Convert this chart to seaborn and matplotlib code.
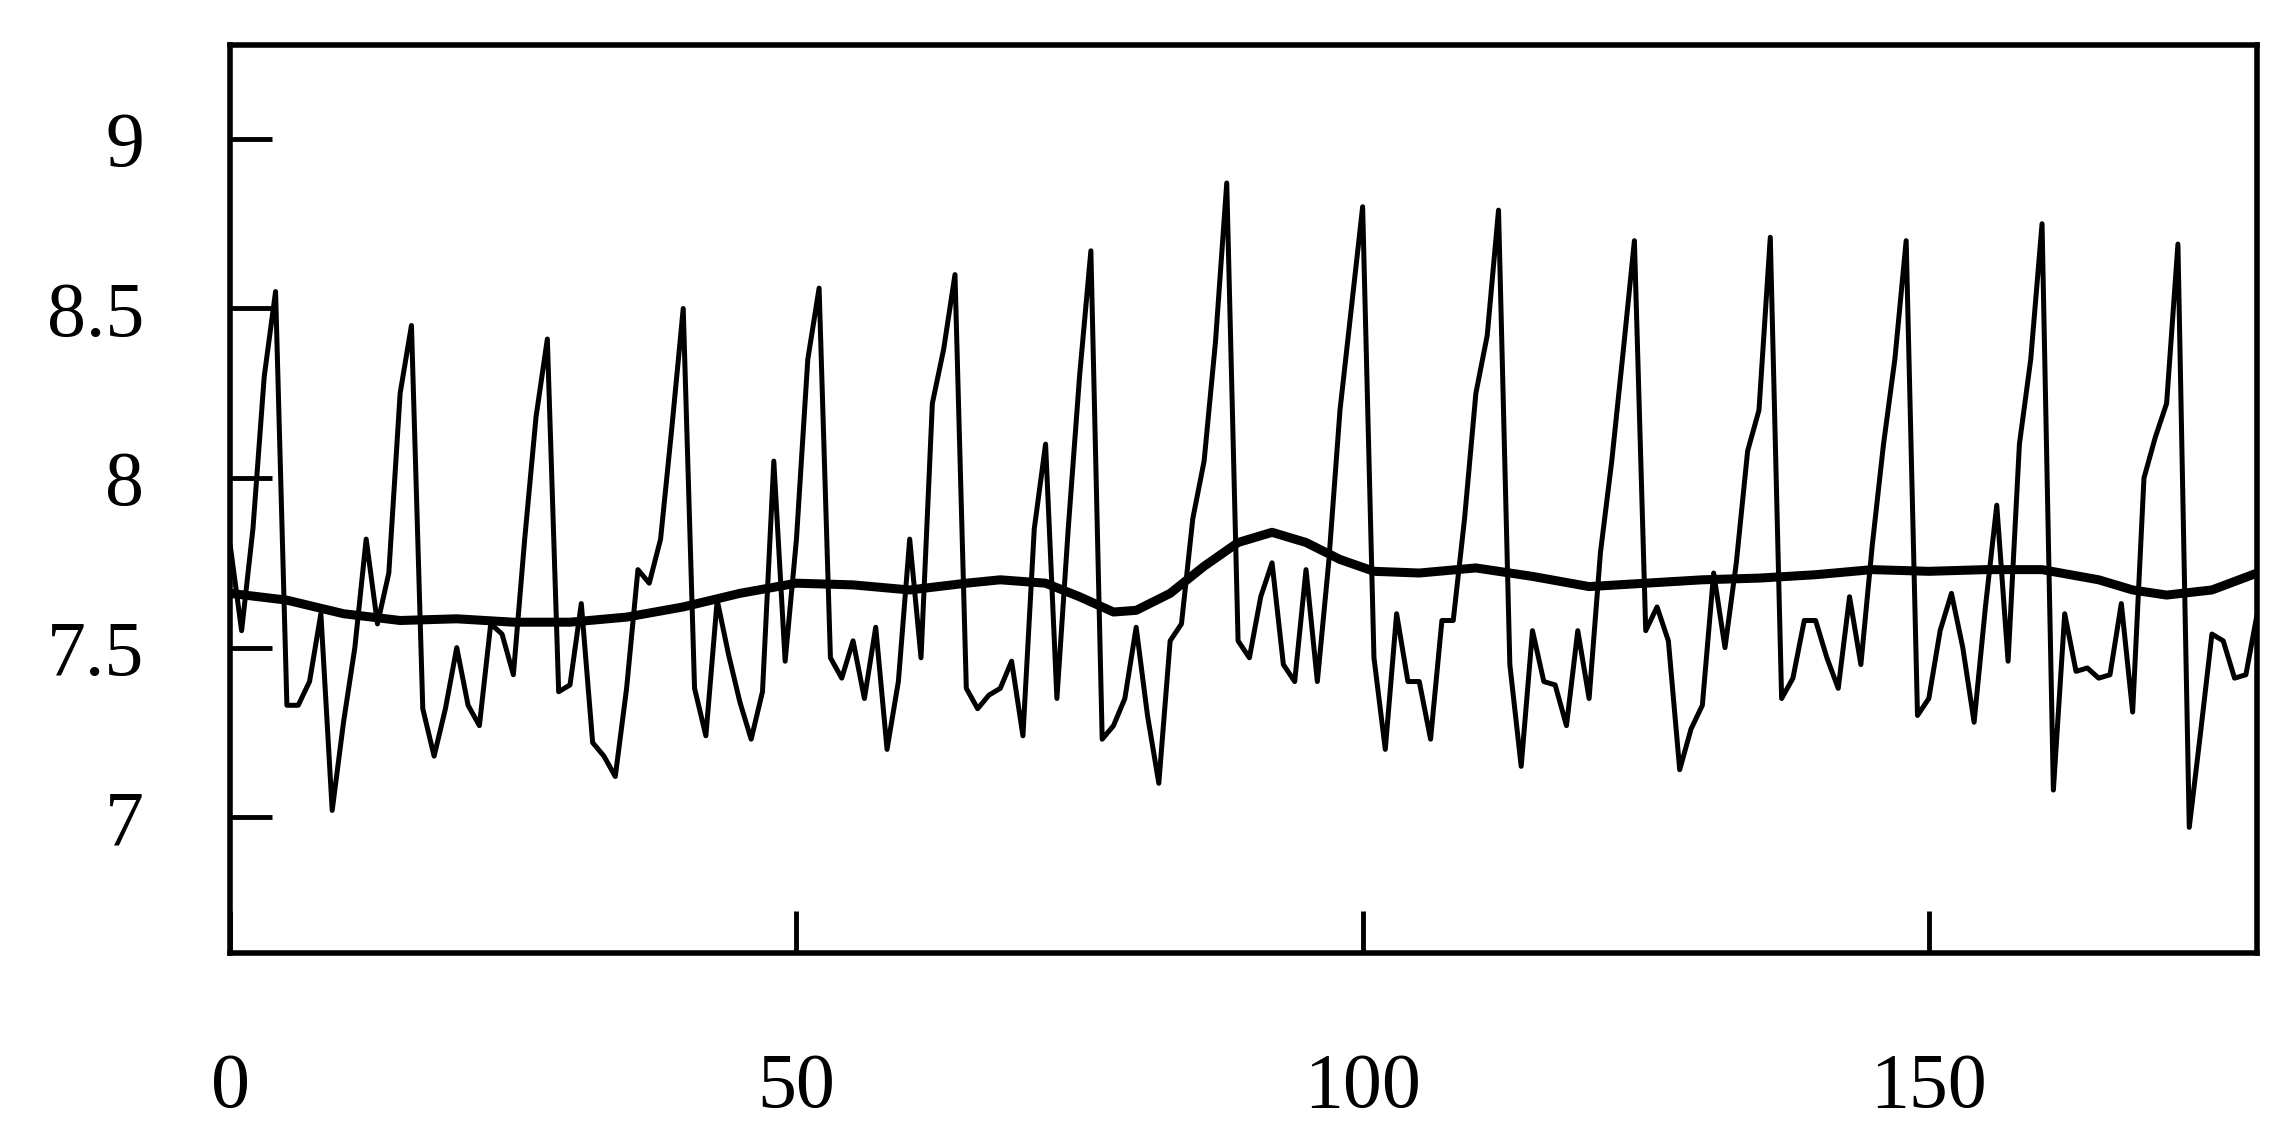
import numpy as np
import pandas as pd
import matplotlib
matplotlib.use('Agg')
import matplotlib.pyplot as plt
import seaborn as sns

# monthly series, 180 observations
values = [
    7.80, 7.55, 7.85, 8.30, 8.55, 7.33, 7.33, 7.40, 7.60, 7.02, 7.28, 7.50,
    7.82, 7.57, 7.72, 8.25, 8.45, 7.32, 7.18, 7.32, 7.50, 7.33, 7.27, 7.57,
    7.54, 7.42, 7.82, 8.18, 8.41, 7.37, 7.39, 7.63, 7.22, 7.18, 7.12, 7.38,
    7.73, 7.69, 7.82, 8.15, 8.50, 7.38, 7.24, 7.64, 7.48, 7.34, 7.23, 7.37,
    8.05, 7.46, 7.82, 8.35, 8.56, 7.47, 7.41, 7.52, 7.35, 7.56, 7.20, 7.40,
    7.82, 7.47, 8.22, 8.38, 8.60, 7.38, 7.32, 7.36, 7.38, 7.46, 7.24, 7.85,
    8.10, 7.35, 7.85, 8.30, 8.67, 7.23, 7.27, 7.35, 7.56, 7.30, 7.10, 7.52,
    7.57, 7.88, 8.05, 8.40, 8.87, 7.52, 7.47, 7.65, 7.75, 7.45, 7.40, 7.73,
    7.40, 7.75, 8.20, 8.50, 8.80, 7.47, 7.20, 7.60, 7.40, 7.40, 7.23, 7.58,
    7.58, 7.88, 8.25, 8.42, 8.79, 7.45, 7.15, 7.55, 7.40, 7.39, 7.27, 7.55,
    7.35, 7.78, 8.05, 8.37, 8.70, 7.55, 7.62, 7.52, 7.14, 7.26, 7.33, 7.72,
    7.50, 7.75, 8.08, 8.20, 8.71, 7.35, 7.41, 7.58, 7.58, 7.47, 7.38, 7.65,
    7.45, 7.80, 8.10, 8.35, 8.70, 7.30, 7.35, 7.55, 7.66, 7.50, 7.28, 7.62,
    7.92, 7.46, 8.10, 8.35, 8.75, 7.08, 7.60, 7.43, 7.44, 7.41, 7.42, 7.63,
    7.31, 8.00, 8.12, 8.22, 8.69, 6.97, 7.25, 7.54, 7.52, 7.41, 7.42, 7.60,
]

# smooth trend, read at selected positions
trend_x = [0, 5, 10, 15, 20, 25, 30, 35, 40, 45, 50, 55, 60, 65, 68, 72, 75, 78,
           80, 83, 86, 89, 92, 95, 98, 101, 105, 110, 115, 120, 125, 130, 135,
           140, 145, 150, 155, 160, 165, 168, 171, 175, 179]
trend_y = [7.66, 7.64, 7.60, 7.58, 7.585, 7.575, 7.575, 7.59, 7.62, 7.66, 7.69,
           7.685, 7.67, 7.69, 7.70, 7.69, 7.65, 7.605, 7.61, 7.66, 7.74, 7.81,
           7.84, 7.81, 7.76, 7.725, 7.72, 7.735, 7.71, 7.68, 7.69, 7.70, 7.705,
           7.715, 7.73, 7.725, 7.73, 7.73, 7.70, 7.67, 7.655, 7.67, 7.72]

series = pd.DataFrame({'t': np.arange(len(values)), 'v': values})
trend = pd.DataFrame({'t': trend_x, 'v': trend_y})

sns.set_style('white')
plt.rcParams['font.family'] = ['Liberation Serif', 'DejaVu Serif']

fig = plt.figure(figsize=(22.8, 11.33), dpi=100)
ax = fig.add_axes([0.101, 0.159, 0.889, 0.801])
sns.lineplot(data=series, x='t', y='v', ax=ax, color='black', lw=3.6)
sns.lineplot(data=trend, x='t', y='v', ax=ax, color='black', lw=6.5)

ax.set_xlim(0, 179)
ax.set_ylim(6.6, 9.276)
ax.set_xticks([0, 50, 100, 150])
ax.set_yticks([7, 7.5, 8, 8.5, 9])
ax.set_yticklabels(['7', '7.5', '8', '8.5', '9'])
ax.set_xlabel('')
ax.set_ylabel('')
for s in ax.spines.values():
    s.set_linewidth(4)
    s.set_color('black')
ax.tick_params(axis='both', direction='in', length=30, width=3.5, labelsize=56,
               colors='black', bottom=True, left=True)
ax.tick_params(axis='y', pad=62)
ax.tick_params(axis='x', pad=72)

fig.savefig('out.png', dpi=100)
